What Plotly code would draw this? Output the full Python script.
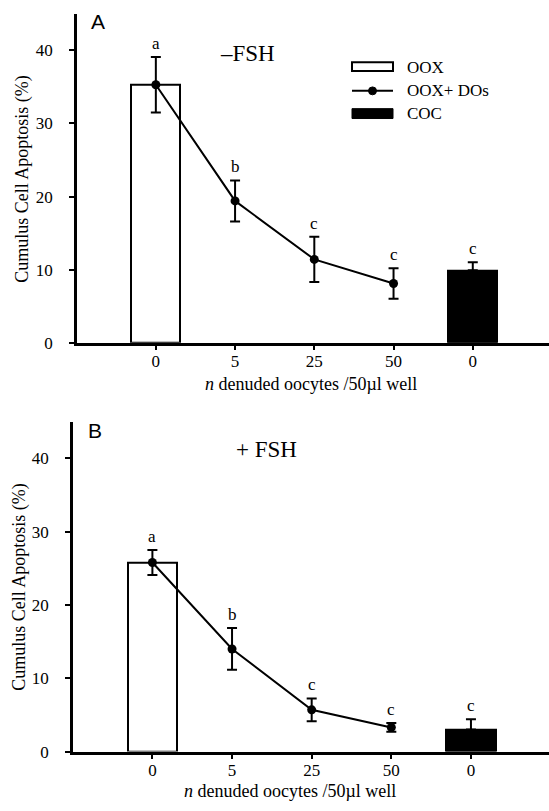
import plotly.graph_objects as go

# ---------------- data ----------------
x_labels = ["0", "5", "25", "50", "0"]
x_pos = [0, 1, 2, 3, 4]
line_pos = [0, 1, 2, 3]

# Panel A (-FSH)
oox_A = [35.3]
line_A = [35.3, 19.4, 11.4, 8.1]
line_A_err = [3.8, 2.8, 3.1, 2.1]
coc_A = [9.9]
coc_A_err = [1.1]
letters_A = ["a", "b", "c", "c", "c"]

# Panel B (+FSH)
oox_B = [25.8]
line_B = [25.8, 14.0, 5.7, 3.3]
line_B_err = [1.7, 2.85, 1.55, 0.6]
coc_B = [3.0]
coc_B_err = [1.4]
letters_B = ["a", "b", "c", "c", "c"]

y_ticks = [0, 10, 20, 30, 40]
legend_names = ["OOX", "OOX+ DOs", "COC"]
y_title = "Cumulus Cell Apoptosis (%)"
x_title = "<i>n</i> denuded oocytes /50µl well"

# ---------------- layout helpers ----------------
W, H = 549, 811
SERIF = "Liberation Serif, Times New Roman, serif"
SANS = "Liberation Sans, Arial, sans-serif"


def px(x):
    return x / W


def py(y):
    return 1 - y / H


fig = go.Figure()


def add_panel(xa, ya, oox, line, line_err, coc, coc_err, letters):
    xr = "x" if xa == 1 else "x%d" % xa
    yr = "y" if ya == 1 else "y%d" % ya
    fig.add_trace(go.Bar(x=[x_pos[0]], y=oox, width=0.62, xaxis=xr, yaxis=yr,
                         marker=dict(color="white", line=dict(color="black", width=2)),
                         showlegend=False))
    fig.add_trace(go.Bar(x=[x_pos[4]], y=coc, width=0.62, xaxis=xr, yaxis=yr,
                         marker=dict(color="black", line=dict(color="black", width=2)),
                         error_y=dict(type="data", symmetric=False, array=coc_err,
                                      arrayminus=[0], color="black", thickness=2, width=5),
                         showlegend=False))
    fig.add_trace(go.Scatter(x=line_pos, y=line, mode="lines+markers", xaxis=xr, yaxis=yr,
                             line=dict(color="black", width=2),
                             marker=dict(size=9, color="black"),
                             error_y=dict(type="data", array=line_err, color="black",
                                          thickness=2, width=5),
                             showlegend=False))
    tops = [v + e for v, e in zip(line, line_err)] + [coc[0] + coc_err[0]]
    for i, (lt, t) in enumerate(zip(letters, tops)):
        fig.add_annotation(x=x_pos[i], y=t, xref=xr, yref=yr, text=lt, showarrow=False,
                           xanchor="center", yanchor="bottom", yshift=2,
                           font=dict(family=SERIF, size=17, color="black"))


add_panel(1, 1, oox_A, line_A, line_A_err, coc_A, coc_A_err, letters_A)
add_panel(2, 2, oox_B, line_B, line_B_err, coc_B, coc_B_err, letters_B)

axis_common = dict(showline=True, linecolor="black", linewidth=2.5, ticks="outside",
                   ticklen=5, tickwidth=1.5, tickcolor="black", showgrid=False,
                   zeroline=False, tickfont=dict(family=SERIF, size=17, color="black"))

fig.update_layout(
    width=W, height=H,
    margin=dict(l=0, r=0, t=0, b=0),
    paper_bgcolor="white", plot_bgcolor="white",
    bargap=0,
    xaxis=dict(domain=[px(77), 1], range=[-0.995, 4.962], tickmode="array",
               tickvals=x_pos, ticktext=x_labels, anchor="y", ticklabelstandoff=-4, **axis_common),
    yaxis=dict(domain=[py(347), py(14)], range=[0, 45.0], tickmode="array",
               tickvals=y_ticks, anchor="x", ticklabelstandoff=13, **axis_common),
    xaxis2=dict(domain=[px(73), 1], range=[-0.997, 4.98], tickmode="array",
                tickvals=x_pos, ticktext=x_labels, anchor="y2", ticklabelstandoff=-4, **axis_common),
    yaxis2=dict(domain=[py(761), py(427)], range=[0, 45.0], tickmode="array",
                tickvals=y_ticks, anchor="x2", ticklabelstandoff=13, **axis_common),
)


def paper_text(x, y, text, family, size, xanchor="center", angle=0):
    fig.add_annotation(x=px(x), y=py(y), xref="paper", yref="paper", text=text,
                       showarrow=False, xanchor=xanchor, yanchor="middle", textangle=angle,
                       font=dict(family=family, size=size, color="black"))


# axis titles
paper_text(23, 181, y_title, SERIF, 18, angle=-90)
paper_text(20, 594, y_title, SERIF, 18, angle=-90)
paper_text(311, 389, x_title, SERIF, 18)
paper_text(290, 801, x_title, SERIF, 18)

# panel letters
paper_text(98, 22, "A", SANS, 21)
paper_text(95, 436, "B", SANS, 21)

# condition labels
paper_text(247, 54, "–FSH", SERIF, 23)
paper_text(266, 455, "+ FSH", SERIF, 23)

# custom legend (panel A)
fig.add_shape(type="rect", xref="paper", yref="paper", x0=px(352), x1=px(393), y0=py(72), y1=py(63),
              fillcolor="white", line=dict(color="black", width=2))
fig.add_shape(type="line", xref="paper", yref="paper", x0=px(352), x1=px(393), y0=py(92), y1=py(92),
              line=dict(color="black", width=2))
fig.add_shape(type="circle", xref="paper", yref="paper", x0=px(368.5), x1=px(376.5), y0=py(96), y1=py(88),
              fillcolor="black", line=dict(color="black", width=1))
fig.add_shape(type="rect", xref="paper", yref="paper", x0=px(352), x1=px(393), y0=py(120), y1=py(110),
              fillcolor="black", line=dict(color="black", width=1))
for name, yc in zip(legend_names, [68, 92, 115]):
    paper_text(405, yc, name, SERIF, 17, xanchor="left")

fig.write_html("out.html", config={"displayModeBar": False},
               post_script="document.body.style.margin='0px';")
